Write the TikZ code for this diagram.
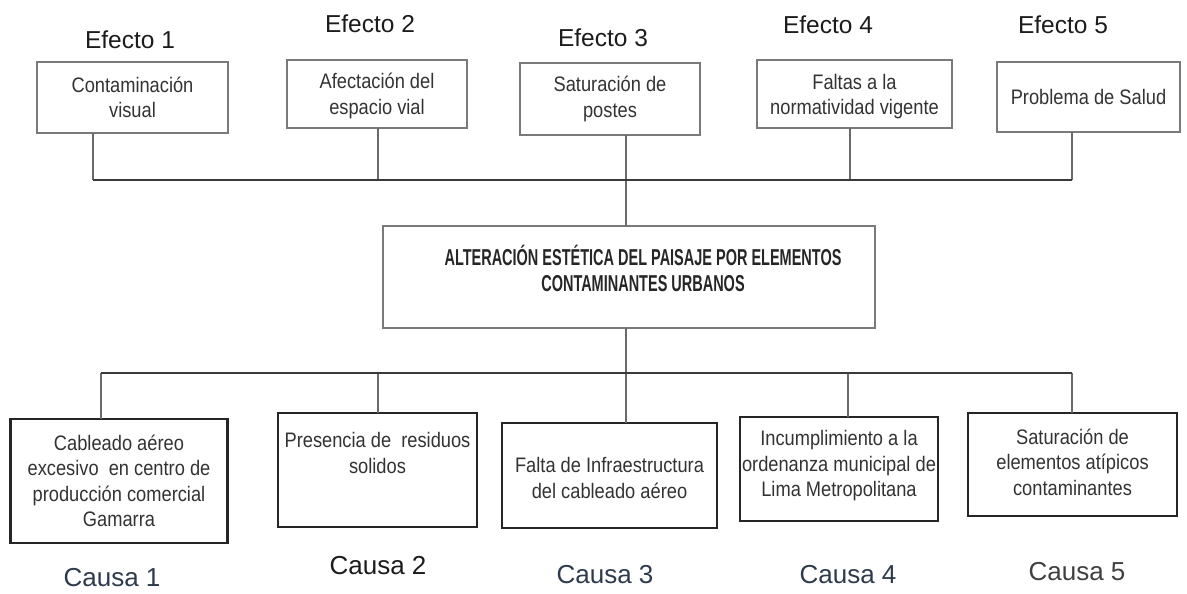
\documentclass[tikz,border=0pt]{standalone}
\usepackage{fontspec}
\setmainfont{Liberation Sans}
\newfontfamily\boxfont[FakeStretch=0.87]{Liberation Sans}
\newfontfamily\titlefont[FakeStretch=0.63]{Liberation Sans}
\definecolor{txtgray}{HTML}{333333}
\definecolor{lblblack}{HTML}{1C1C1C}
\definecolor{lblblue}{HTML}{2E3B4C}
\definecolor{topedge}{HTML}{7A7A7A}
\definecolor{botedge}{HTML}{262626}
\definecolor{conn}{HTML}{6A6A6A}
\definecolor{bar}{HTML}{3A3A3A}
\begin{document}
\begin{tikzpicture}[x=1pt,y=-1pt,
  topbox/.style={draw=topedge,line width=1.3pt,fill=white,inner sep=0pt,outer sep=0pt},
  botbox/.style={draw=botedge,line width=2.2pt,fill=white,inner sep=0pt,outer sep=0pt},
  midbox/.style={draw=topedge,line width=1.3pt,fill=white,inner sep=0pt,outer sep=0pt},
  btxt/.style={text=txtgray,align=center,inner sep=0pt,font=\boxfont\fontsize{21}{25.5}\selectfont},
  ttxt/.style={text=black!85,inner sep=0pt,anchor=base,font=\titlefont\bfseries\fontsize{23}{26}\selectfont},
  lbl/.style={text=lblblack,inner sep=0pt,font=\fontsize{24.5}{28}\selectfont},
  clbl/.style={text=lblblack,inner sep=0pt,font=\fontsize{26}{30}\selectfont},
  vline/.style={draw=conn,line width=1.3pt},
  hline/.style={draw=bar,line width=2.6pt}]
\useasboundingbox[fill=white] (0,0) rectangle (1187,594);

% Effect labels
\node[lbl] (e1l) at (130,40) {Efecto 1};
\node[lbl] (e2l) at (370,24) {Efecto 2};
\node[lbl] (e3l) at (603,38) {Efecto 3};
\node[lbl] (e4l) at (828,25) {Efecto 4};
\node[lbl] (e5l) at (1063,25) {Efecto 5};

% Effect boxes
\node[topbox,minimum width=191pt,minimum height=71pt] (b1) at (132.5,97.5) {};
\node[topbox,minimum width=180pt,minimum height=68pt] (b2) at (377,94) {};
\node[topbox,minimum width=180pt,minimum height=72pt] (b3) at (610,99) {};
\node[topbox,minimum width=195pt,minimum height=68pt] (b4) at (854.5,94) {};
\node[topbox,minimum width=183pt,minimum height=70pt] (b5) at (1088.5,97) {};
\node[btxt] (b1t) at (132.5,97.5) {Contaminación\\visual};
\node[btxt] (b2t) at (377,96) {Afectación del\\espacio vial};
\node[btxt] (b3t) at (610,99) {Saturación de\\postes};
\node[btxt] (b4t) at (854.5,96.5) {Faltas a la\\normatividad vigente};
\node[btxt] (b5t) at (1088.5,97) {Problema de Salud};

% Central problem
\node[midbox,minimum width=492pt,minimum height=102pt] (prob) at (629,277) {};
\node[ttxt] (probt1) at (643,265) {ALTERACIÓN ESTÉTICA DEL PAISAJE POR ELEMENTOS};
\node[ttxt] (probt2) at (643,291) {CONTAMINANTES URBANOS};

% Cause boxes
\node[botbox,minimum width=217pt,minimum height=124pt] (c1) at (119,481) {};
\node[botbox,minimum width=199pt,minimum height=114pt] (c2) at (377.5,470) {};
\node[botbox,minimum width=215pt,minimum height=105pt] (c3) at (609.5,475.5) {};
\node[botbox,minimum width=198pt,minimum height=104pt] (c4) at (839,469) {};
\node[botbox,minimum width=209pt,minimum height=103pt] (c5) at (1072.5,464.5) {};
\node[btxt] (c1t) at (119,481) {Cableado aéreo\\excesivo\ \ en centro de\\producción comercial\\Gamarra};
\node[btxt] (c2t) at (377.5,453) {Presencia de\ \ residuos\\solidos};
\node[btxt] (c3t) at (609.5,478) {Falta de Infraestructura\\del cableado aéreo};
\node[btxt] (c4t) at (839,466) {Incumplimiento a la\\ordenanza municipal de\\Lima Metropolitana};
\node[btxt] (c5t) at (1072.5,462) {Saturación de\\elementos atípicos\\contaminantes};

% Cause labels
\node[clbl,text=lblblue] (c1l) at (112,578) {Causa 1};
\node[clbl] (c2l) at (378,566) {Causa 2};
\node[clbl,text=lblblue] (c3l) at (605,575) {Causa 3};
\node[clbl,text=lblblue] (c4l) at (848,575) {Causa 4};
\node[clbl,text=black!75] (c5l) at (1077,572) {Causa 5};

% Top connectors
\coordinate (t1) at (93,180);
\coordinate (t2) at (378,180);
\coordinate (t3) at (626,180);
\coordinate (t4) at (850,180);
\coordinate (t5) at (1072,180);
\draw[vline] (b1.south -| t1) -- (t1);
\draw[vline] (b2.south -| t2) -- (t2);
\draw[vline] (b3.south -| t3) -- (prob.north -| t3);
\draw[vline] (b4.south -| t4) -- (t4);
\draw[vline] (b5.south -| t5) -- (t5);
\draw[hline] (t1) -- (t5);

% Bottom connectors
\coordinate (u1) at (101,373);
\coordinate (u2) at (378,373);
\coordinate (u3) at (626,373);
\coordinate (u4) at (848,373);
\coordinate (u5) at (1072,373);
\draw[vline] (prob.south -| u3) -- (c3.north -| u3);
\draw[vline] (u1) -- (c1.north -| u1);
\draw[vline] (u2) -- (c2.north -| u2);
\draw[vline] (u4) -- (c4.north -| u4);
\draw[vline] (u5) -- (c5.north -| u5);
\draw[hline] (u1) -- (u5);
\end{tikzpicture}
\end{document}
